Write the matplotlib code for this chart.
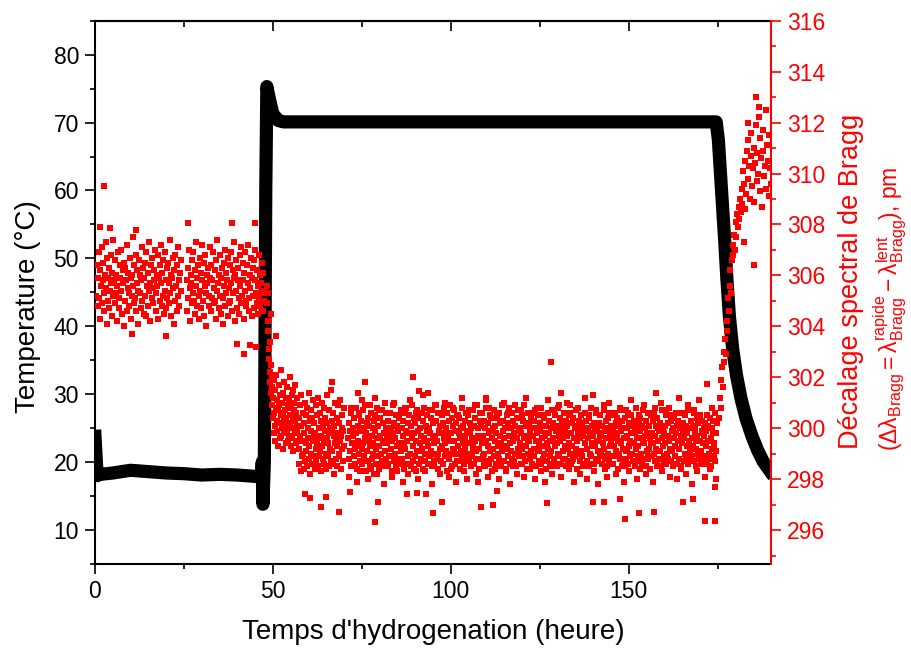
import matplotlib
matplotlib.use("Agg")
import matplotlib.pyplot as plt
from matplotlib.ticker import MultipleLocator
import numpy as np

plt.rcParams['font.family'] = ['Liberation Sans', 'DejaVu Sans']
plt.rcParams['mathtext.fontset'] = 'custom'
plt.rcParams['mathtext.rm'] = 'Liberation Sans'
plt.rcParams['mathtext.it'] = 'Liberation Sans:italic'

# temperature (black curve), hours / degC
temp_t = [0.0, 0.6, 1.5, 5, 10, 15, 20, 25, 30, 35, 40, 45, 46.8, 47.0, 47.2, 47.6,
          48.0, 48.3, 49.0, 50.0, 51.5, 53, 60, 100, 150, 174.6, 175.2, 175.8, 176.4,
          177.0, 177.6, 178.3, 179.2, 180.3, 181.6, 183.0, 184.6, 186.2, 187.8, 189.7]
temp_c = [23.8, 18.0, 18.2, 18.4, 18.8, 18.6, 18.4, 18.3, 18.1, 18.2, 18.1, 17.9, 17.8,
          20.0, 13.8, 20.0, 60.0, 75.3, 73.5, 71.3, 70.3, 70.1, 70.1, 70.1, 70.1, 70.1,
          67.5, 62.5, 57.5, 52.5, 47.0, 41.5, 36.8, 32.8, 29.3, 26.4, 23.9, 21.8, 20.1, 18.7]

# Bragg shift (red squares), pm
shift_a1 = [
    305.2, 306.4, 304.8, 305.9, 306.9, 305.1, 304.3, 306.2, 305.6, 307.1, 304.9, 305.8, 306.5, 305.3, 304.6, 306.0, 307.3, 305.5, 304.1, 306.7, 305.0, 305.9, 306.3, 304.7, 305.4,
    306.8, 305.7, 304.4, 306.1, 305.2, 307.4, 305.8, 304.9, 306.6, 305.3, 306.0, 304.2, 305.6, 306.9, 305.1, 304.7, 306.4, 305.9, 307.0, 305.4, 304.5, 306.2, 305.7, 304.0, 306.5,
    305.0, 306.3, 305.8, 304.6, 307.2, 305.5, 306.1, 304.8, 305.3, 306.7, 305.9, 304.3, 306.0, 305.2, 307.5, 305.6, 304.9, 306.4, 305.1, 306.8, 304.6, 305.7, 306.2, 305.4, 304.1,
    306.6, 305.3, 306.0, 304.7, 305.8, 307.1, 305.0, 306.3, 304.5, 305.9, 306.5, 305.2, 304.4, 306.9, 305.6, 306.1, 304.8, 305.4, 307.3, 305.7, 304.2, 306.4, 305.1, 306.7, 305.5,
    304.9, 306.2, 305.8, 307.0, 305.3, 304.6, 306.0, 305.6, 306.8, 304.3, 305.9, 306.4, 305.0, 307.2, 305.7, 304.8, 306.1, 305.2, 306.6, 304.5, 305.4, 306.9, 305.8, 304.7, 306.3,
    305.1, 306.5, 304.9, 305.7, 307.4, 305.3, 306.0, 304.4, 305.9, 306.7, 305.5, 304.1, 306.2, 305.0, 306.8, 305.6, 304.6, 306.4, 305.2, 307.1, 305.8, 304.8, 306.1, 305.4, 306.6]
shift_a2 = [
    305.8, 304.6, 306.3, 305.1, 307.0, 305.5, 304.2, 306.0, 305.7, 306.6, 304.9, 305.3, 306.9, 305.0, 304.5, 306.2, 305.6, 307.3, 304.8, 305.9, 306.4, 305.2, 304.3, 306.7, 305.4,
    306.1, 304.7, 305.8, 307.2, 305.0, 306.5, 304.4, 305.6, 306.8, 305.3, 304.0, 306.0, 305.7, 306.3, 304.8, 305.2, 307.1, 305.9, 304.6, 306.4, 305.1, 305.8, 306.9, 304.9, 305.5,
    306.2, 305.0, 304.3, 306.6, 305.4, 307.4, 305.7, 304.7, 306.0, 305.2, 306.8, 304.5, 305.9, 306.3, 305.1, 304.1, 306.5, 305.6, 307.0, 304.8, 305.3, 306.1, 305.8, 304.4, 306.7,
    305.5, 304.9, 306.4, 305.0, 306.9, 305.7, 304.6, 306.2, 305.3, 307.3, 305.9, 304.2, 306.0, 305.4, 306.6, 304.7, 305.8, 306.3, 305.1, 304.5, 306.8, 305.6, 307.1, 304.9, 305.2,
    306.5, 305.8, 304.3, 306.1, 305.4, 306.9, 305.0, 304.8, 306.4, 305.7, 307.2, 305.1, 304.6, 306.0, 305.5, 306.7, 304.4, 305.9, 306.3, 305.2, 304.7, 306.6, 305.8, 307.0, 305.3,
    304.9, 306.2, 305.6, 304.5, 306.8, 305.1, 306.0, 304.8, 305.7, 306.5, 305.3, 304.6, 306.1, 305.4, 305.0]
shift_b1 = [
    305.6, 304.9, 305.3, 304.2, 303.8, 303.1, 302.7, 303.4, 302.2, 301.8, 302.5, 301.4, 300.9, 302.0, 301.6, 300.4, 301.2, 299.8, 301.9, 300.6,
    300.1, 301.5, 299.5, 300.8, 302.1, 300.3, 299.9, 301.1, 300.7, 299.3, 301.7, 300.2, 300.9, 299.6, 301.3, 300.5, 302.3, 299.7, 300.0, 301.0,
    300.6, 299.2, 301.4, 300.3, 299.9, 301.8, 300.1, 300.7, 299.4, 301.2, 300.4, 299.8, 301.6, 300.0, 299.5, 300.9, 301.1, 299.7, 300.5, 302.0,
    300.2, 299.3, 300.8, 301.3, 299.6, 300.0, 301.5, 300.4, 299.1, 300.7, 301.0, 299.8, 300.3, 301.7, 299.4, 300.6, 299.9, 301.2, 300.1, 299.5]
shift_b2 = [
    300.4, 299.2, 298.6, 300.9, 299.7, 298.3, 300.1, 301.3, 299.5, 298.9, 300.6, 299.0, 298.4, 300.2, 299.8, 301.0, 298.7, 299.4, 300.5, 299.1,
    298.5, 300.8, 299.6, 300.0, 298.8, 301.4, 299.3, 300.3, 298.2, 299.9, 300.7, 299.0, 298.6, 300.4, 299.5, 301.1, 298.9, 299.7, 300.2, 298.4,
    299.8, 300.9, 299.2, 298.7, 300.5, 299.4, 301.2, 298.5, 300.0, 299.6, 298.9, 300.6, 299.1, 300.3, 298.3, 299.7, 301.0, 299.3, 298.8, 300.1,
    299.5, 300.8, 298.6, 299.9, 300.4, 299.0, 298.4, 301.3, 299.6, 300.2, 298.9, 299.4, 300.7, 299.8, 298.5, 300.0, 299.2, 301.5, 298.7, 299.9,
    300.3, 299.1, 298.6, 300.6, 299.7, 298.2, 300.1, 299.4, 301.0, 298.8, 299.6, 300.4, 299.3, 298.5, 300.9, 299.8, 299.0, 300.2, 298.9, 299.5,
    301.1, 299.7, 298.4, 300.0, 299.2, 300.5, 298.7, 299.9, 300.8, 299.3]
shift_d = [
    299.6, 298.8, 300.2, 299.1, 299.9, 300.6, 298.5, 299.4, 300.0, 299.7, 298.9, 300.4, 299.2, 298.6, 299.8, 300.8, 299.3, 298.4, 300.1, 299.5, 299.0, 300.5, 298.7, 299.9, 300.3,
    299.2, 298.6, 300.7, 299.4, 300.0, 298.9, 299.6, 300.9, 298.3, 299.8, 300.2, 299.1, 298.7, 300.4, 299.5, 300.1, 298.5, 299.3, 300.6, 299.7, 298.8, 300.0, 299.4, 298.2, 300.3,
    299.9, 300.5, 298.6, 299.2, 300.8, 299.6, 298.9, 300.1, 299.3, 298.4, 299.7, 300.4, 299.0, 300.7, 298.7, 299.5, 300.2, 298.5, 299.8, 301.0, 299.1, 298.8, 300.0, 299.4, 299.6,
    298.6, 300.3, 299.7, 298.9, 300.6, 299.2, 300.0, 298.3, 299.5, 300.9, 299.8, 298.7, 300.2, 299.0, 299.6, 300.5, 298.5, 299.3, 300.1, 298.8, 299.9, 300.4, 299.4, 298.6, 300.7,
    299.1, 300.0, 298.8, 299.7, 300.3, 299.4, 298.4, 300.6, 299.2, 299.9, 300.8, 298.6, 299.5, 300.2, 298.9, 299.8, 300.5, 299.0, 298.5, 300.1, 299.6, 300.9, 298.7, 299.3, 300.4,
    299.8, 298.9, 300.2, 299.5, 298.3, 300.7, 299.1, 299.9, 300.4, 298.6, 299.4, 300.0, 299.7, 298.8, 300.6, 299.2, 300.3, 298.4, 299.6, 300.8, 299.0, 298.7, 300.1, 299.5, 299.9,
    300.5, 299.3, 298.6, 300.0, 299.8, 298.9, 300.4, 299.1, 300.7, 298.5, 299.6, 300.2, 299.4, 298.7, 300.9, 299.7, 299.0, 300.3, 298.8, 299.5, 300.6, 298.4, 299.9, 300.1, 299.2,
    298.7, 299.8, 300.5, 299.3, 298.6, 300.2, 299.6, 300.8, 298.9, 299.4, 300.0, 299.1, 298.3, 300.6, 299.7, 300.3, 298.8, 299.5, 300.9, 299.0, 299.8, 298.5, 300.4, 299.2, 300.1,
    299.5, 300.7, 298.6, 299.9, 300.2, 299.0, 298.7, 300.5, 299.3, 299.8, 300.4, 298.4, 299.6, 300.0, 299.1, 298.9, 300.8, 299.4, 300.1, 298.6, 299.7, 300.3, 299.2, 298.8, 300.6,
    299.0, 299.9, 300.5, 298.7, 299.4, 300.2, 299.8, 298.5, 300.0, 299.6, 298.9, 300.7, 299.3, 300.1, 298.6, 299.5, 300.4, 299.1, 298.8, 300.9, 299.7, 300.0, 298.4, 299.2, 300.3,
    299.6, 298.8, 300.1, 299.4, 300.6, 298.9, 299.7, 300.3, 299.0, 298.5, 300.0, 299.5, 300.8, 298.7, 299.3, 300.2, 299.8, 298.6, 300.5, 299.1, 299.9, 300.4, 298.3, 299.6, 300.0,
    299.2, 300.7, 298.9, 299.5, 300.1, 299.8, 298.6, 300.4, 299.3, 299.0, 300.6, 298.8, 299.7, 300.2, 299.4, 298.5, 300.9, 299.1, 299.9, 300.3, 298.7, 299.6, 300.0, 299.2, 298.4,
    300.5, 299.3, 298.9, 300.2, 299.7, 300.8, 298.6, 299.4, 300.0, 299.1, 298.8, 300.6, 299.5, 300.3, 298.7, 299.8, 300.1, 299.0, 298.5, 300.4, 299.6, 299.2, 300.7, 298.9, 299.9,
    299.4, 300.0, 298.6, 299.8, 300.5, 299.2, 298.9, 300.3, 299.6, 300.9, 298.7, 299.3, 300.1, 299.7, 298.4, 300.6, 299.0, 299.5, 300.2, 298.8, 299.9, 300.4, 299.1, 298.6, 300.0,
    299.7, 298.9, 300.3, 299.2, 300.7, 299.5, 298.5, 300.0, 299.8, 299.1, 300.5, 298.7, 299.4, 300.2, 299.9, 298.6, 300.8, 299.3, 299.6, 300.1, 298.8, 299.0, 300.4, 299.7, 298.4,
    300.1, 299.4, 298.7, 300.6, 299.2, 299.8, 300.3, 298.9, 299.5, 300.0, 299.1, 298.5, 300.7, 299.6, 300.2, 298.8, 299.3, 300.5, 299.9, 298.6, 300.1, 299.4, 299.0, 300.8, 299.7,
    298.9, 300.4, 299.5, 300.0, 298.6, 299.8, 300.2, 299.1, 298.8, 300.6, 299.3, 299.9, 300.3, 298.5, 299.7, 300.1, 299.2, 298.7, 300.5, 299.4, 300.9, 299.0, 298.6, 299.8, 300.2,
    299.3, 298.8, 300.4, 299.6, 300.0, 298.9, 299.2, 300.7, 299.5, 298.4, 300.1, 299.8, 299.0, 300.3, 298.7, 299.6, 300.5, 299.1, 298.9, 300.2, 299.7, 300.0, 298.6, 299.4, 300.6,
    299.9, 300.3, 298.7, 299.2, 300.0, 299.6, 298.5, 300.4, 299.0, 299.8, 300.8, 298.9, 299.4, 300.1, 299.7, 298.6, 300.2, 299.3, 299.9, 300.6, 298.8, 299.5, 300.0, 299.1, 298.7,
    300.2, 299.5, 298.9, 300.5, 299.1, 299.8, 300.1, 298.6, 299.4, 300.7, 299.2, 298.8, 300.0, 299.6, 300.3, 298.5, 299.9, 300.4, 299.0, 298.7, 300.6, 299.3, 299.8, 300.1, 298.9,
    299.6, 300.0, 298.6, 299.3, 300.5, 299.8, 298.9, 300.2, 299.1, 299.7, 300.4, 298.4, 299.5, 300.1, 299.0, 298.8, 300.7, 299.4, 299.9, 300.3, 298.7, 299.2, 300.0, 299.6, 298.5,
    300.4, 299.1, 298.8, 300.0, 299.7, 300.6, 298.6, 299.3, 300.2, 299.5, 298.9, 300.5, 299.8, 299.0, 300.1, 298.7, 299.4, 300.3, 299.9, 298.5, 300.8, 299.2, 299.6, 300.0, 298.9,
    299.3, 300.2, 298.7, 299.9, 300.4, 299.0, 298.6, 300.1, 299.5, 300.7, 298.8, 299.4, 300.0, 299.7, 298.5, 300.3, 299.1, 299.8, 300.6, 298.9, 299.2, 300.1, 299.6, 298.4, 300.5,
    299.8, 298.9, 300.3, 299.4, 299.0, 300.6, 298.7, 299.7, 300.1, 299.2, 298.6, 300.4, 299.5, 300.0, 298.8, 299.9, 300.2, 299.1, 298.5, 300.7, 299.6, 299.3, 300.0, 298.9, 299.8,
    300.1, 299.4, 298.6, 300.5, 299.7, 299.0, 300.2, 298.8, 299.5, 300.8, 299.2, 298.7, 300.3, 299.9, 299.1, 298.5, 300.0, 299.6, 300.4, 298.9, 299.3, 300.6, 299.8, 298.6, 300.1,
    299.5, 300.3, 298.8, 299.2, 300.0, 299.7, 298.5, 300.6, 299.4, 299.9, 300.2, 298.7, 299.6, 300.5, 299.0, 298.9, 300.1, 299.3, 299.8, 300.7, 298.6, 299.5, 300.0, 299.1, 298.8,
    300.3, 299.6, 298.9, 300.1, 299.3, 300.6, 298.7, 299.8, 300.0, 299.2, 298.5, 300.4, 299.7, 299.0, 300.2, 298.8, 299.5, 300.5, 299.1, 298.6, 299.9, 300.3, 299.4, 298.9, 300.0,
    299.7, 298.7, 300.2, 299.3, 299.9, 300.5, 298.6, 299.5, 300.1, 299.0, 298.8, 300.4, 299.6, 298.5, 300.0, 299.2, 299.8, 300.3, 298.9, 299.4, 300.6, 298.7, 299.1, 299.8, 300.2]
# second, sparser pass over the same plateau (edges of the band)
shift_d2 = [
    298.1, 300.8, 298.5, 299.2, 297.9, 300.6, 298.3, 301.1, 298.7, 299.6, 298.0, 300.9, 298.4, 299.0, 301.2, 298.2, 300.7, 298.6, 299.4, 297.8,
    300.6, 298.5, 299.9, 298.1, 301.0, 298.8, 298.3, 300.5, 299.3, 297.9, 300.8, 298.6, 298.2, 301.1, 299.7, 298.4, 300.6, 298.0, 299.1, 298.7,
    301.3, 298.3, 299.5, 298.9, 300.7, 297.8, 298.5, 300.9, 299.0, 298.2, 300.6, 298.6, 301.0, 299.8, 298.1, 298.4, 300.8, 299.2, 297.9, 300.5,
    298.7, 301.2, 298.3, 299.6, 298.0, 300.7, 298.5, 299.1, 300.9, 298.2, 297.9, 300.6, 299.4, 298.6, 301.1, 298.1, 300.8, 298.8, 299.9, 298.4,
    300.5, 298.0, 299.3, 298.7, 301.0, 298.3, 300.6, 297.8, 299.7, 298.5, 300.9, 298.2, 299.0, 300.7, 298.6, 298.1, 301.2, 299.5, 298.4, 300.6,
    298.9, 298.0, 300.8, 299.2, 298.3, 300.5, 297.9, 299.8, 301.1, 298.6, 298.2, 300.7, 299.4, 298.5, 300.9, 298.1, 299.6, 298.8, 301.0, 298.4,
    300.6, 298.7, 297.9, 299.1, 300.8, 298.2, 299.9, 298.5, 301.2, 298.0, 300.5, 298.6, 299.3, 298.3, 300.7, 297.8, 299.7, 298.9, 300.9, 298.4,
    298.1, 301.0, 299.5, 298.6, 300.6, 298.2, 299.0, 300.8, 298.5, 297.9, 300.7, 299.2, 298.3, 301.1, 298.7, 299.8, 298.0, 300.5, 298.4, 299.6,
    300.9, 298.2, 298.8, 300.6, 299.4, 297.9, 300.8, 298.5, 299.1, 301.0, 298.3, 298.7, 300.7, 299.7, 298.1, 300.5, 298.6, 299.3, 298.0, 301.2,
    298.4, 300.6, 299.0, 298.2, 300.9, 298.8, 297.8, 300.7, 299.5, 298.3, 301.1, 298.6, 299.8, 298.1, 300.5, 298.9, 298.4, 300.8, 299.2, 298.0]
shift_e = [
    300.4, 301.2, 300.8, 301.9, 302.4, 301.6, 303.0, 302.6,
    303.5, 302.9, 304.2, 303.8, 305.1, 304.6, 305.6, 306.2, 305.3, 306.6,
    307.2, 306.8, 307.6, 307.0, 308.1, 307.5, 308.4, 307.9, 308.7, 308.2, 309.0, 308.5,
    309.4, 308.8, 310.1, 309.6, 308.6, 310.5, 309.2, 310.9, 309.8, 311.3, 310.3, 309.0, 310.7, 311.6, 309.5, 310.2, 311.0, 308.9, 310.4, 311.9,
    309.7, 310.8, 310.0, 312.2, 309.3, 311.4, 310.6, 308.7, 310.9, 311.7, 309.9, 310.3, 312.5, 309.4, 311.1, 310.5, 309.1, 311.5, 310.2, 309.6]
# time span (h) of each sampled segment
span_a1 = (0.4, 24.2)
span_a2 = (25.8, 47.6)
span_b1 = (48.3, 57.0)
span_b2 = (57.2, 70.0)
span_d = (71.2, 174.8)
span_d2 = (71.5, 174.5)
span_e = (175.4, 190.0)

# isolated points (hour, pm)
outlier_t = [2.5, 1.3, 4.3, 11.5, 26.2, 38.5, 45.0, 40.0, 42.0, 43.5, 45.3, 10.5, 20.0,
             51.0, 49.5, 66.6, 76.0, 74.0, 59.0, 60.5, 63.5, 65.0, 68.7, 71.7, 78.7, 79.5,
             89.5, 91.2, 93.6, 128.1, 131.0, 157.7, 172.0, 140.0, 110.0,
             95.1, 149.0, 153.0, 157.0, 171.5, 174.3, 108.5, 112.0, 127.0, 87.6, 90.4, 93.0,
             97.5, 140.0, 143.0, 147.5, 165.4, 168.0, 113.0, 174.3,
             185.8, 186.6, 183.4, 185.3, 182.5]
outlier_v = [309.5, 307.9, 307.85, 307.8, 308.05, 308.05, 308.05, 303.3, 302.9, 303.25, 303.2, 303.7, 303.6,
             303.6, 304.5, 301.8, 301.8, 301.4, 297.4, 297.25, 296.9, 297.3, 296.7, 297.5, 296.3, 297.1,
             302.0, 301.45, 301.4, 302.6, 301.4, 301.4, 301.75, 301.3, 301.2,
             296.67, 296.45, 296.67, 296.7, 296.35, 296.35, 296.9, 297.0, 297.06, 297.4, 297.45, 297.4,
             297.1, 297.1, 297.1, 297.2, 297.1, 297.2, 297.55, 297.7,
             313.0, 312.6, 312.0, 306.4, 307.3]

segments = [(shift_a1, span_a1), (shift_a2, span_a2), (shift_b1, span_b1),
            (shift_b2, span_b2), (shift_d, span_d), (shift_d2, span_d2), (shift_e, span_e)]
shift_t = np.concatenate([np.linspace(s[0], s[1], len(v)) for v, s in segments] + [outlier_t])
shift_v = np.concatenate([v for v, s in segments] + [outlier_v])

red = '#ff0000'
fig = plt.figure(figsize=(9.12, 6.53), dpi=100)
ax = fig.add_axes([95 / 912, 89 / 653, 676 / 912, 543.3 / 653])

ax.plot(temp_t, temp_c, color='black', lw=9.5, solid_joinstyle='round')
ax.set_xlim(0, 190)
ax.set_ylim(5, 85)
ax.set_xticks([0, 50, 100, 150])
ax.set_yticks(range(10, 90, 10))
ax.xaxis.set_minor_locator(MultipleLocator(25))
ax.yaxis.set_minor_locator(MultipleLocator(5))
ax.tick_params(which='major', direction='out', length=7.2, width=1.2, labelsize=16.5, pad=4.3)
ax.tick_params(which='minor', direction='out', length=3.8, width=1.2)
ax.spines['right'].set_visible(False)
for s in ['left', 'top', 'bottom']:
    ax.spines[s].set_linewidth(1.5)

top = ax.secondary_xaxis('top')
top.set_xticks([0, 50, 100, 150])
top.xaxis.set_minor_locator(MultipleLocator(25))
top.tick_params(which='major', direction='in', length=7, width=1.2, labeltop=False)
top.tick_params(which='minor', direction='in', length=4, width=1.2)
top.spines['top'].set_linewidth(1.5)

ax2 = ax.twinx()
ax2.plot(shift_t, shift_v, 's', color=red, ms=4.7, mew=0, ls='none')
ax2.set_ylim(294.667, 316)
ax2.set_yticks(range(296, 317, 2))
ax2.yaxis.set_minor_locator(MultipleLocator(1))
ax2.tick_params(which='major', direction='out', length=7.2, width=1.2, labelsize=16.5,
                pad=4.3, colors=red)
ax2.tick_params(which='minor', direction='out', length=3.8, width=1.2, colors=red)
for s in ['left', 'top', 'bottom']:
    ax2.spines[s].set_visible(False)
ax2.spines['right'].set_color(red)
ax2.spines['right'].set_linewidth(1.5)

fig.text(0.031, 0.53, 'Temperature (°C)', rotation=90, ha='center', va='center', fontsize=20)
fig.text(0.475, 0.032, "Temps d'hydrogenation (heure)", ha='center', va='center', fontsize=20)
fig.text(0.933, 0.312, 'Décalage spectral de Bragg', rotation=90, ha='center', va='bottom',
         fontsize=19.5, color=red)
fig.text(0.976, 0.309,
         r'$(\mathrm{Δλ_{Bragg}} = \mathrm{λ^{rapide}_{Bragg}} - \mathrm{λ^{lent}_{Bragg}})$, pm',
         rotation=90, ha='center', va='bottom', fontsize=16.5, color=red)

fig.savefig('out.png', dpi=100)
